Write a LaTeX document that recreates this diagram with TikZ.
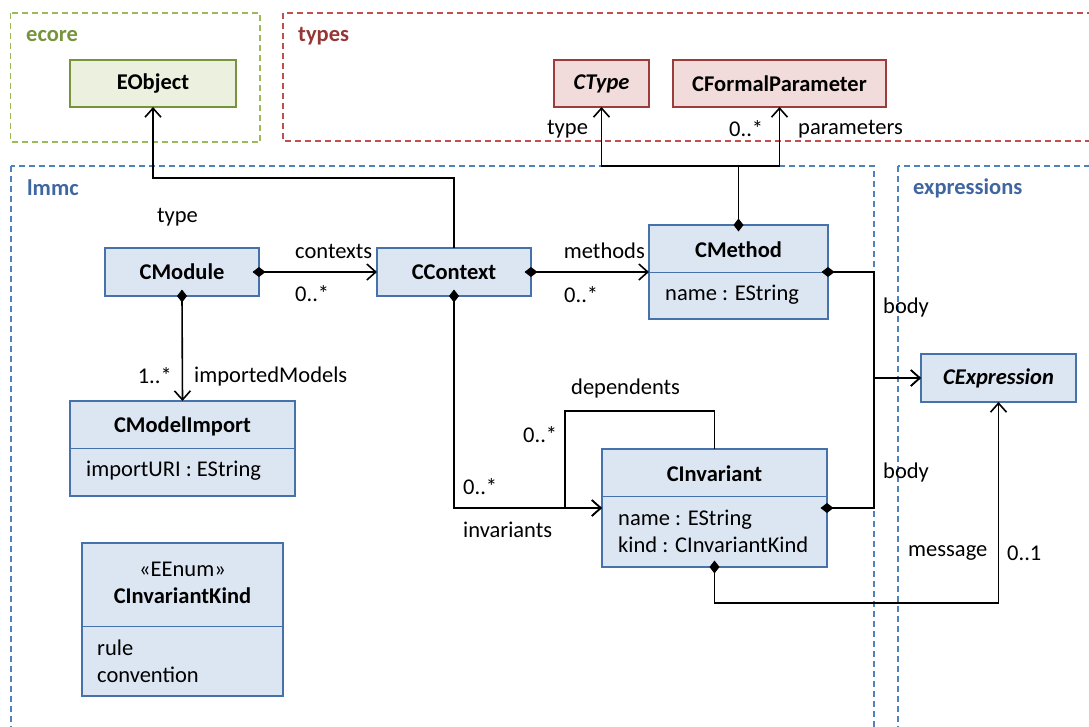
\documentclass[tikz,border=0pt]{standalone}
\usepackage{fontspec}
\setmainfont{Carlito}
\usetikzlibrary{arrows.meta}

\definecolor{ecoreline}{HTML}{9BBB59}
\definecolor{ecoretext}{HTML}{77933C}
\definecolor{ecorefill}{HTML}{EBF1DE}
\definecolor{typesline}{HTML}{C0504D}
\definecolor{typestext}{HTML}{953735}
\definecolor{typesfill}{HTML}{F2DCDB}
\definecolor{typesdraw}{HTML}{9B3D3A}
\definecolor{lmmcline}{HTML}{4F81BD}
\definecolor{lmmctext}{HTML}{3F66A0}
\definecolor{clsfill}{HTML}{DCE6F2}
\definecolor{clsdraw}{HTML}{4672AB}

\tikzset{
    pkg/.style={dash pattern=on 6pt off 4pt, line width=1.2pt},
    pkgname/.style={anchor=west, inner sep=0pt, font=\fontsize{22.5}{27}\selectfont\bfseries},
    cls/.style={draw=clsdraw, fill=clsfill, line width=1.5pt, inner sep=0pt, outer sep=0pt,
        font=\fontsize{22.5}{27}\selectfont\bfseries},
    divider/.style={draw=clsdraw, line width=1pt},
    title/.style={inner sep=0pt, font=\fontsize{22.5}{27}\selectfont\bfseries},
    attr/.style={inner sep=0pt, anchor=west, align=left},
    lbl/.style={inner sep=0pt, anchor=west},
    assoc/.style={line width=1.6pt, ->},
    comp/.style={line width=1.6pt, {Diamond[length=13pt, width=10pt]}->, shorten <=-6.5pt}
}

\begin{document}
\begin{tikzpicture}[x=1pt, y=-1pt, font=\fontsize{22.5}{27}\selectfont,
        >={Straight Barb[length=9pt, width=16pt]}]
            \useasboundingbox (0,0) rectangle (1089,726);
            \clip (0,0) rectangle (1089,726);

            % packages
            \draw[pkg, ecoreline] (10.5,13) rectangle (260,142);
            \draw[pkg, typesline] (283,13) rectangle (1100,141);
            \draw[pkg, lmmcline] (11,166) rectangle (874,740);
            \draw[pkg, lmmcline] (898,166) rectangle (1100,740);
            \node[pkgname, text=ecoretext] (p-ecore) at (26,36) {ecore};
            \node[pkgname, text=typestext] (p-types) at (298,36) {types};
            \node[pkgname, text=lmmctext] (p-lmmc) at (27,188) {lmmc};
            \node[pkgname, text=lmmctext] (p-expr) at (913,188) {expressions};

            % classes
            \node[cls, draw=ecoretext, fill=ecorefill, minimum width=166, minimum height=47] (eobject) at (153,83.5) {EObject};
            \node[cls, draw=typesdraw, fill=typesfill, minimum width=95, minimum height=47] (ctype) at (601.5,83.5) {\itshape CType};
            \node[cls, draw=typesdraw, fill=typesfill, minimum width=213, minimum height=47] (cformal) at (779.5,83.5) {CFormalParameter};
            \node[cls, minimum width=154, minimum height=48] (cmodule) at (182,272) {CModule};
            \node[cls, minimum width=154, minimum height=48] (ccontext) at (454,272) {CContext};
            \node[cls, minimum width=155, minimum height=48] (cexpr) at (998.5,378) {\itshape CExpression};

            \node[cls, minimum width=179, minimum height=94] (cmethod) at (738.5,272) {};
            \draw[divider] (cmethod.west) -- (cmethod.east);
            \node[title] (cmethod-t) at (738.5,249.5) {CMethod};
            \node[attr] (cmethod-a) at (665,295) {name : EString};

            \node[cls, minimum width=225, minimum height=95] (cmodimp) at (182.5,448.5) {};
            \draw[divider] (cmodimp.west) -- (cmodimp.east);
            \node[title] (cmodimp-t) at (182.5,426) {CModelImport};
            \node[attr] (cmodimp-a) at (86,471) {importURI : EString};

            \node[cls, minimum width=225, minimum height=118] (cinv) at (714.5,508) {};
            \draw[divider] ([yshift=-47pt]cinv.north west) -- ([yshift=-47pt]cinv.north east);
            \node[title] (cinv-t) at (714.5,474) {CInvariant};
            \node[attr] (cinv-a) at (618,531) {name : EString\\kind : CInvariantKind};

            \node[cls, minimum width=201, minimum height=153] (ckind) at (182.5,619.5) {};
            \draw[divider] ([yshift=-83pt]ckind.north west) -- ([yshift=-83pt]ckind.north east);
            \node[inner sep=0pt, align=center] (ckind-t) at (182.5,583) {«EEnum»\\\textbf{CInvariantKind}};
            \node[attr] (ckind-a) at (97,661.5) {rule\\convention};

            % connectors
            \draw[assoc] (ccontext.north) -- ++(0,-70) -| (eobject.south);
            \draw[comp] (cmodule.east) -- (ccontext.west);
            \draw[comp] (cmodule.south) -- (cmodimp.north);
            \draw[comp] (ccontext.east) -- (cmethod.west);
            \draw[comp] (cmethod.north) -- ++(0,-59) -| (ctype.south);
            \draw[assoc] ([yshift=59pt]cmethod.north) -| (cformal.south);
            \draw[comp] (cmethod.east) -- ++(46,0) |- (cexpr.west);
            \draw[comp] (cinv.east) -- ++(47,0) |- (cexpr.west);
            \draw[comp] (ccontext.south) |- (cinv.west);
            \draw[assoc] (cinv.north) -- ++(0,-38) -| ([xshift=-37pt]cinv.west) -- (cinv.west);
            \draw[comp] (cinv.south) -- ++(0,36) -| (cexpr.south);

            % role names and multiplicities
            \node[lbl] (l-type1) at (157,217) {type};
            \node[lbl] (l-contexts) at (295,251) {contexts};
            \node[lbl] (m-contexts) at (295,294) {0..*};
            \node[lbl, anchor=east] (m-imported) at (172,376) {1..*};
            \node[lbl] (l-imported) at (194,376) {importedModels};
            \node[lbl, anchor=east] (l-methods) at (645,251) {methods};
            \node[lbl] (m-methods) at (564,295) {0..*};
            \node[lbl] (l-type2) at (547,129) {type};
            \node[lbl] (m-params) at (729,129) {0..*};
            \node[lbl] (l-params) at (798,129) {parameters};
            \node[lbl] (l-body1) at (883,307) {body};
            \node[lbl] (l-body2) at (883,472) {body};
            \node[lbl] (l-dep) at (571,388) {dependents};
            \node[lbl] (m-dep) at (523,435) {0..*};
            \node[lbl] (m-inv) at (463,487) {0..*};
            \node[lbl] (l-inv) at (463,530) {invariants};
            \node[lbl] (l-msg) at (908,553) {message};
            \node[lbl] (m-msg) at (1007,553) {0..1};
        \end{tikzpicture}
\end{document}
